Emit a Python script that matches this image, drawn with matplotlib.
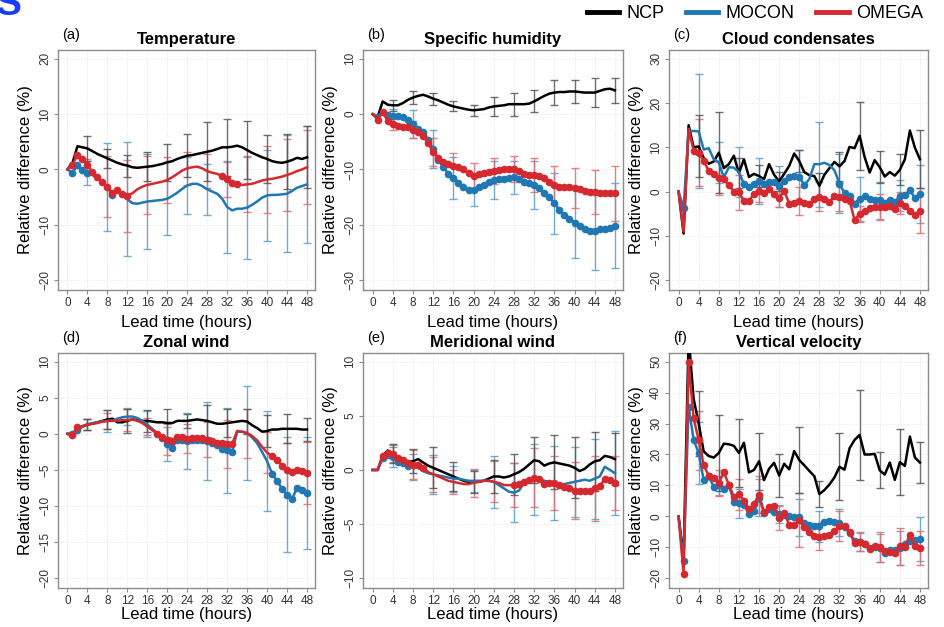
import numpy as np
import matplotlib
matplotlib.use('Agg')
import matplotlib.pyplot as plt
from matplotlib.lines import Line2D

plt.rcParams['font.family'] = ['Liberation Sans', 'DejaVu Sans']

hours = list(range(49))
err_hours = [4, 8, 12, 16, 20, 24, 28, 32, 36, 40, 44, 48]
series_names = ['NCP', 'MOCON', 'OMEGA']

# (a) Temperature
temp_ncp = [0, 1.2, 4.2, 4.0, 3.8, 3.3, 2.8, 2.4, 2.0, 1.6, 1.2, 0.9, 0.7, 0.4, 0.3, 0.4, 0.5,
            0.6, 0.8, 1.0, 1.3, 1.5, 1.9, 2.2, 2.5, 2.6, 2.8, 3.0, 3.2, 3.4, 3.7, 4.0, 4.0,
            4.1, 4.3, 4.0, 3.5, 3.0, 2.6, 2.2, 1.9, 1.5, 1.3, 1.2, 1.4, 1.7, 2.1, 1.9, 2.2]
temp_mocon = [0, -0.6, 0.8, -0.1, -0.6, -1.0, -1.6, -2.3, -3.2, -4.6, -4.0, -4.6, -5.4, -6.1, -6.2, -6.0, -5.8,
              -5.7, -5.6, -5.5, -5.3, -4.8, -4.2, -3.5, -2.9, -2.6, -2.6, -3.0, -3.6, -4.0, -4.4, -5.3, -6.8,
              -7.4, -7.1, -7.1, -6.9, -6.4, -5.8, -5.1, -4.7, -4.6, -4.6, -4.5, -4.4, -3.9, -3.3, -3.0, -2.7]
temp_omega = [0, 0.8, 2.7, 1.9, 0.8, -0.4, -1.3, -2.2, -3.1, -4.3, -3.8, -4.4, -4.8, -4.3, -3.6, -3.1, -2.8,
              -2.6, -2.4, -2.2, -1.9, -1.4, -0.8, -0.2, 0.2, 0.4, 0.5, 0.2, -0.3, -0.6, -0.8, -1.2, -1.8,
              -2.4, -2.6, -2.8, -2.7, -2.6, -2.3, -2.0, -1.8, -1.7, -1.5, -1.3, -1.0, -0.7, -0.3, 0.0, 0.4]
temp_ncp_err = [2.2, 1.7, 2.0, 2.6, 3.3, 3.9, 5.3, 5.2, 5.2, 4.4, 5.0, 5.6]
temp_mocon_err = [2.2, 8.0, 10.3, 8.6, 6.6, 5.1, 4.6, 8.3, 9.3, 8.3, 10.6, 10.6]
temp_omega_err = [1.0, 5.5, 6.5, 5.2, 4.1, 3.0, 3.1, 3.2, 5.0, 6.0, 6.5, 6.7]
temp_ncp_sig = []
temp_mocon_sig = [1, 2, 3, 4, 9]
temp_omega_sig = list(range(1, 13)) + [31, 32, 33, 34]

# (b) Specific humidity
hum_ncp = [0, -0.5, 2.3, 1.7, 1.6, 1.6, 2.0, 2.6, 3.0, 3.3, 3.5, 3.2, 2.8, 2.5, 2.1, 1.7, 1.4,
           1.2, 1.0, 0.8, 0.7, 0.8, 0.9, 1.2, 1.4, 1.5, 1.6, 1.8, 1.8, 1.8, 1.8, 1.9, 2.3,
           2.8, 3.3, 3.7, 3.9, 4.0, 4.0, 4.1, 4.1, 4.0, 3.9, 3.9, 3.9, 4.2, 4.5, 4.6, 4.3]
hum_mocon = [0, -0.3, 0.2, -0.2, -0.3, -0.4, -0.6, -1.0, -1.8, -2.6, -3.2, -4.6, -6.3, -8.3, -9.5, -10.8, -11.5,
             -12.4, -13.2, -13.7, -13.8, -13.2, -12.8, -12.3, -11.9, -11.8, -11.8, -11.6, -11.4, -11.8, -12.2, -12.5, -12.8,
             -13.3, -14.2, -15.0, -16.1, -17.3, -18.3, -19.0, -19.6, -20.2, -20.7, -21.1, -21.2, -20.7, -20.8, -20.6, -20.2]
hum_omega = [0, -1.0, 0.4, -1.3, -1.8, -2.1, -2.3, -2.4, -2.8, -3.3, -3.9, -5.2, -6.8, -7.9, -8.6, -9.0, -9.4,
             -9.6, -10.0, -10.7, -11.1, -10.8, -10.7, -10.5, -10.3, -10.1, -10.0, -10.0, -9.9, -10.3, -10.8, -11.0, -11.0,
             -11.2, -11.6, -12.2, -12.8, -13.1, -13.2, -13.2, -13.4, -13.6, -13.9, -14.1, -14.1, -14.2, -14.3, -14.3, -14.3]
hum_ncp_err = [1.0, 1.2, 1.1, 0.9, 1.0, 1.7, 2.1, 2.0, 2.3, 2.1, 2.6, 2.3]
hum_mocon_err = [1.2, 2.6, 3.4, 3.8, 2.9, 3.5, 3.0, 4.4, 5.5, 6.5, 7.0, 7.7]
hum_omega_err = [1.0, 1.5, 2.5, 2.4, 2.3, 2.4, 2.4, 3.0, 3.5, 3.6, 4.0, 5.0]
hum_ncp_sig = []
hum_mocon_sig = list(range(3, 49))
hum_omega_sig = list(range(1, 49))

# (c) Cloud condensates
cld_ncp = [0, -9.5, 15.0, 10.0, 10.2, 7.6, 6.3, 6.8, 8.8, 5.3, 6.2, 8.1, 4.2, 7.3, 3.3, 4.0, 3.5,
           2.8, 6.2, 3.8, 2.3, 4.0, 5.8, 8.6, 6.9, 4.4, 3.7, 3.5, 1.3, 3.8, 5.3, 6.7, 5.7,
           6.9, 10.1, 9.8, 12.6, 7.8, 4.3, 7.1, 5.5, 3.4, 4.4, 3.6, 4.9, 7.3, 13.8, 9.9, 7.3]
cld_mocon = [0, -3.7, 13.7, 13.7, 13.6, 9.5, 9.8, 7.3, 6.6, 3.2, 5.5, 5.4, 4.4, 1.7, 1.0, 1.8, 2.4,
             1.8, 2.1, 2.1, 1.2, 2.3, 3.2, 3.6, 3.3, 1.5, 2.8, 6.2, 6.2, 6.5, 6.0, 4.8, 1.8,
             -0.4, -0.9, -2.7, -1.6, -0.9, -1.6, -1.8, -2.0, -2.6, -1.8, -2.4, -0.9, -0.8, 0.3, -1.5, -0.5]
cld_omega = [0, -9.0, 14.2, 9.2, 8.8, 7.0, 4.6, 3.9, 3.0, 2.8, 1.4, 0.0, -0.2, -2.1, -2.1, -0.5, 0.1,
             -0.4, 0.6, -0.5, -1.4, 0.2, -2.7, -2.6, -2.1, -2.6, -2.9, -1.6, -1.2, -1.6, -2.4, -0.9, -1.2,
             -1.6, -2.1, -6.4, -5.0, -4.4, -3.8, -3.6, -3.5, -3.5, -3.3, -3.9, -2.6, -3.2, -4.3, -5.3, -4.3]
cld_ncp_err = [7.0, 9.2, 3.4, 2.5, 2.2, 2.5, 3.0, 3.3, 7.7, 3.6, 3.5, 6.6]
cld_mocon_err = [12.9, 4.7, 5.6, 5.2, 4.6, 6.0, 9.6, 6.6, 5.0, 4.2, 3.5, 6.6]
cld_omega_err = [7.5, 3.7, 4.0, 2.4, 2.0, 3.2, 3.3, 3.1, 1.8, 2.9, 2.5, 5.0]
cld_ncp_sig = []
cld_mocon_sig = [1] + list(range(13, 26)) + list(range(32, 49))
cld_omega_sig = list(range(3, 49))

# (d) Zonal wind
zon_ncp = [0, 0, 0.7, 1.0, 1.3, 1.4, 1.6, 1.8, 2.0, 2.1, 1.6, 1.6, 1.8, 2.0, 1.9, 1.8, 1.8,
           1.7, 1.6, 1.6, 1.5, 1.5, 1.8, 1.8, 1.8, 1.9, 2.0, 1.9, 1.8, 1.6, 1.4, 1.4, 1.5,
           1.6, 1.7, 1.8, 1.7, 1.2, 0.8, 0.3, 0.4, 0.6, 0.6, 0.7, 0.7, 0.7, 0.7, 0.6, 0.6]
zon_mocon = [0, 0, 0.5, 1.0, 1.3, 1.5, 1.6, 1.7, 1.8, 1.8, 2.1, 2.3, 2.4, 2.4, 2.2, 1.8, 1.3,
             0.7, 0.1, -0.6, -1.4, -1.9, -0.8, -0.9, -1.0, -0.9, -0.8, -0.8, -1.0, -1.2, -1.5, -2.1, -2.3,
             -2.5, 0.3, 0.3, 0.1, -0.5, -1.3, -2.5, -3.8, -5.5, -6.5, -7.6, -8.4, -9.0, -7.5, -7.8, -8.2]
zon_omega = [0, -0.1, 0.9, 1.1, 1.3, 1.4, 1.5, 1.7, 1.8, 1.8, 1.8, 1.9, 1.9, 2.0, 1.8, 1.5, 1.0,
             0.5, 0.0, -0.4, -0.8, -1.0, -0.4, -0.5, -0.7, -0.6, -0.6, -0.6, -0.8, -1.0, -1.2, -1.3, -1.4,
             -1.4, 0.4, 0.3, 0.1, -0.3, -0.9, -1.8, -2.6, -3.1, -3.6, -4.4, -5.0, -5.3, -5.0, -5.2, -5.4]
zon_ncp_err = [0.8, 1.3, 1.7, 1.5, 1.9, 1.0, 2.2, 2.0, 1.7, 2.2, 2.0, 1.6]
zon_mocon_err = [0.8, 1.5, 1.2, 1.8, 2.4, 3.9, 5.4, 5.9, 6.5, 6.9, 7.9, 7.7]
zon_omega_err = [0.8, 1.1, 1.5, 1.2, 2.1, 2.0, 2.4, 3.3, 3.4, 2.8, 3.7, 4.3]
zon_ncp_sig = []
zon_mocon_sig = [1, 2] + list(range(19, 34)) + list(range(41, 49))
zon_omega_sig = [1, 2] + list(range(18, 34)) + list(range(41, 49))

# (e) Meridional wind
mer_ncp = [0, 0, 1.3, 1.8, 1.5, 1.2, 1.0, 0.8, 0.8, 1.0, 0.7, 0.4, 0.2, 0.0, -0.2, -0.4, -0.6,
           -0.8, -1.0, -1.1, -1.1, -1.1, -1.0, -0.8, -0.6, -0.6, -0.7, -0.6, -0.4, -0.2, 0.1, 0.5, 0.9,
           0.8, 0.4, 0.6, 0.7, 0.6, 0.5, 0.4, 0.2, -0.1, 0.1, 0.5, 0.8, 0.9, 1.3, 1.2, 1.0]
mer_mocon = [0, 0, 1.1, 1.4, 1.2, 0.7, 0.6, 0.4, 0.3, 0.2, -0.1, -0.3, -0.4, -0.5, -0.6, -0.7, -0.8,
             -0.8, -0.9, -1.0, -1.0, -1.0, -1.0, -1.0, -1.1, -1.4, -1.7, -2.0, -2.1, -1.9, -1.2, -1.0, -0.9,
             -0.8, -1.0, -1.1, -1.2, -1.3, -1.3, -1.2, -1.1, -1.0, -0.9, -1.0, -0.8, -0.6, 0.3, 0.0, -0.3]
mer_omega = [0, 0, 1.3, 1.6, 1.5, 1.1, 0.9, 0.6, 0.5, 0.5, 0.2, -0.2, -0.4, -0.6, -0.8, -1.0, -1.1,
             -1.2, -1.3, -1.3, -1.2, -1.1, -1.0, -1.0, -1.1, -1.2, -1.4, -1.4, -1.4, -1.3, -1.1, -0.9, -0.7,
             -0.8, -1.3, -1.2, -1.2, -1.4, -1.6, -1.7, -1.9, -1.9, -1.9, -1.9, -1.7, -1.5, -0.8, -0.9, -1.2]
mer_ncp_err = [0.9, 1.1, 1.9, 1.3, 1.0, 1.5, 1.9, 2.1, 2.5, 2.8, 2.7, 2.4]
mer_mocon_err = [0.9, 1.2, 1.8, 1.2, 1.0, 2.4, 2.7, 3.3, 3.4, 3.2, 3.7, 3.9]
mer_omega_err = [0.8, 1.3, 1.6, 1.1, 1.3, 1.9, 2.0, 2.7, 2.5, 2.6, 3.0, 2.5]
mer_ncp_sig = []
mer_mocon_sig = list(range(2, 8))
mer_omega_sig = list(range(2, 11)) + list(range(28, 49))

# (f) Vertical velocity
vv_ncp = [0, -13.5, 58.0, 38.0, 30.0, 21.0, 19.5, 19.0, 20.5, 23.5, 23.3, 22.8, 20.5, 23.8, 14.2, 15.0, 17.8,
          11.7, 15.4, 17.3, 13.2, 17.0, 15.2, 21.1, 18.2, 16.5, 14.7, 13.0, 7.2, 8.5, 10.3, 12.6, 16.0,
          15.1, 22.0, 24.7, 26.3, 20.0, 20.0, 20.2, 14.9, 13.5, 17.4, 11.8, 17.5, 16.3, 25.8, 19.0, 17.4]
vv_mocon = [0, -14.4, 35.5, 24.7, 20.5, 11.7, 13.0, 9.5, 10.0, 8.8, 10.0, 4.8, 4.2, 3.8, 0.8, 1.8, 6.0,
            1.2, 2.5, 1.4, 0.8, 0.5, 0.2, -0.1, -0.3, -2.2, -2.9, -3.0, -3.2, -1.7, -1.5, -1.8, -2.0,
            -3.5, -5.3, -7.9, -8.2, -8.8, -10.3, -10.0, -10.2, -11.8, -11.0, -10.8, -10.3, -8.8, -7.8, -7.5, -7.3]
vv_omega = [0, -18.5, 49.8, 31.7, 24.6, 16.5, 13.2, 12.3, 10.8, 14.3, 10.2, 6.4, 7.2, 5.1, 2.3, 4.0, 7.0,
            1.3, 3.0, 3.2, -0.5, 1.2, -2.7, -2.7, -1.2, -3.3, -5.0, -6.3, -6.6, -6.5, -6.0, -4.7, -3.0,
            -3.2, -5.0, -8.7, -8.3, -9.0, -10.4, -9.7, -9.8, -11.2, -11.6, -11.7, -9.7, -9.8, -5.9, -9.5, -10.1]
vv_ncp_err = [10.4, 12.2, 10.9, 9.2, 7.0, 10.6, 4.3, 10.8, 14.7, 5.8, 10.7, 6.6]
vv_mocon_err = [10.0, 3.2, 4.8, 6.0, 3.0, 6.0, 5.0, 4.5, 3.0, 4.5, 5.5, 7.0]
vv_omega_err = [9.5, 4.3, 5.0, 6.0, 4.0, 8.7, 4.3, 4.8, 3.0, 4.8, 6.1, 5.5]
vv_ncp_sig = []
vv_mocon_sig = list(range(1, 49))
vv_omega_sig = list(range(1, 49))

titles = ['Temperature', 'Specific humidity', 'Cloud condensates',
          'Zonal wind', 'Meridional wind', 'Vertical velocity']
letters = ['(a)', '(b)', '(c)', '(d)', '(e)', '(f)']
yticks = [[-20, -10, 0, 10, 20], [-30, -20, -10, 0, 10], [-20, -10, 0, 10, 20, 30],
          [-20, -15, -10, -5, 0, 5, 10], [-10, -5, 0, 5, 10], [-20, -10, 0, 10, 20, 30, 40, 50]]

panels = [
    (temp_ncp, temp_mocon, temp_omega, temp_ncp_err, temp_mocon_err, temp_omega_err,
     temp_ncp_sig, temp_mocon_sig, temp_omega_sig),
    (hum_ncp, hum_mocon, hum_omega, hum_ncp_err, hum_mocon_err, hum_omega_err,
     hum_ncp_sig, hum_mocon_sig, hum_omega_sig),
    (cld_ncp, cld_mocon, cld_omega, cld_ncp_err, cld_mocon_err, cld_omega_err,
     cld_ncp_sig, cld_mocon_sig, cld_omega_sig),
    (zon_ncp, zon_mocon, zon_omega, zon_ncp_err, zon_mocon_err, zon_omega_err,
     zon_ncp_sig, zon_mocon_sig, zon_omega_sig),
    (mer_ncp, mer_mocon, mer_omega, mer_ncp_err, mer_mocon_err, mer_omega_err,
     mer_ncp_sig, mer_mocon_sig, mer_omega_sig),
    (vv_ncp, vv_mocon, vv_omega, vv_ncp_err, vv_mocon_err, vv_omega_err,
     vv_ncp_sig, vv_mocon_sig, vv_omega_sig),
]

colors = ['#000000', '#1f78b4', '#d42a2f']
err_colors = ['#555555', '#5a9ec9', '#e06b6e']

W, H = 944, 627
fig = plt.figure(figsize=(W / 100, H / 100), dpi=100)

lefts = [58, 363, 669]
widths = [257, 260, 259]
row_top = [50, 353]
row_h = [240, 235]
xlab_pad = [4, 0]

for k in range(6):
    r, c = divmod(k, 3)
    ax = fig.add_axes([lefts[c] / W, 1 - (row_top[r] + row_h[r]) / H, widths[c] / W, row_h[r] / H])
    data = panels[k]
    ys = data[0:3]
    errs = data[3:6]
    sigs = data[6:9]

    # error bars (every 4 hours)
    for s in [1, 2, 0]:
        ey = [ys[s][h] for h in err_hours]
        ax.errorbar(err_hours, ey, yerr=errs[s], fmt='none', ecolor=err_colors[s],
                    elinewidth=1.0, capsize=3.2, capthick=1.0, alpha=0.85, zorder=2)

    # lines + dots at significant hours
    for s in [1, 2, 0]:
        mask = [h in sigs[s] for h in hours]
        ax.plot(hours, ys[s], color=colors[s], lw=1.8, zorder=3 + s * 0.1,
                marker='o', markersize=5.5, markevery=mask, markeredgewidth=0)

    t = yticks[k]
    span = t[-1] - t[0]
    ax.set_ylim(t[0] - 0.045 * span, t[-1] + 0.04 * span)
    ax.set_xlim(-1.9, 49.6)
    ax.set_yticks(t)
    ax.set_xticks(range(0, 49, 4))
    ax.grid(True, color='#e4e4e4', lw=0.7, ls=':')
    ax.set_axisbelow(True)
    for sp in ax.spines.values():
        sp.set_color('#8c8c8c')
        sp.set_linewidth(1.0)
    ax.tick_params(axis='both', colors='#8c8c8c', labelcolor='#333333', labelsize=8.5,
                   length=3, width=0.8, pad=2)
    for lab in ax.get_yticklabels():
        lab.set_rotation(90)
        lab.set_va('center')
    ax.set_title(titles[k], fontsize=12, fontweight='bold', pad=4)
    ax.text(0.015, 1.035, letters[k], transform=ax.transAxes, fontsize=10.5, ha='left', va='bottom')
    ax.set_xlabel('Lead time (hours)', fontsize=12, labelpad=xlab_pad[r])
    ax.set_ylabel('Relative difference (%)', fontsize=12, labelpad=4)

handles = [Line2D([0], [0], color=col, lw=3.5) for col in colors]
fig.legend(handles, series_names, loc='upper right', bbox_to_anchor=(0.995, 1.018), ncol=3,
           frameon=False, fontsize=13, handlelength=1.8, columnspacing=1.2, handletextpad=0.4)

fig.text(-0.004, 1.02, 'S', color='#1a3cff', fontsize=28, fontweight='bold', ha='left', va='top')

fig.savefig('out.png', dpi=100)
